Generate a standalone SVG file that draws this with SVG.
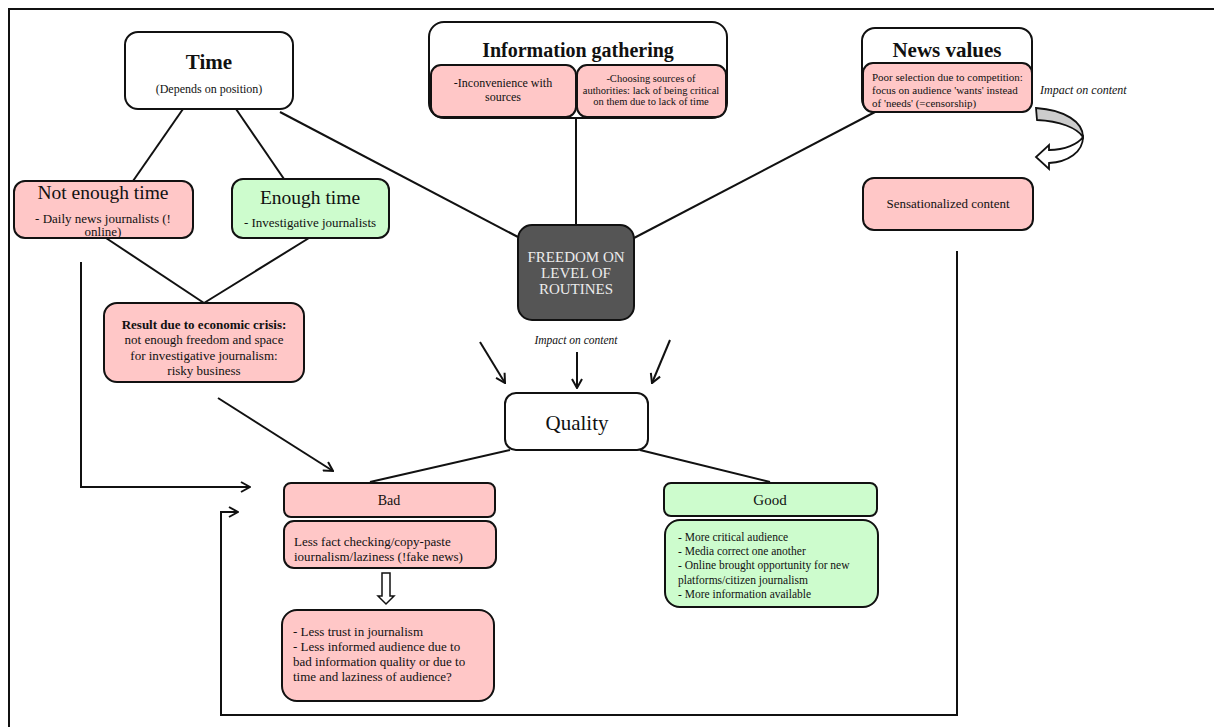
<svg xmlns="http://www.w3.org/2000/svg" width="1214" height="727" viewBox="0 0 1214 727">
  <style>
    .box { stroke: #111; stroke-width: 2; }
    .white { fill: #ffffff; }
    .pink { fill: #ffc7c7; }
    .green { fill: #cdfccd; }
    .dark { fill: #555555; }
    text { font-family: "Liberation Serif", "Times New Roman", serif; fill: #111; }
    .c { text-anchor: middle; }
    .b { font-weight: bold; }
    .i { font-style: italic; }
    .conn line, .conn polyline { stroke: #111; stroke-width: 2; fill: none; }
  </style>
  <defs>
    <marker id="open" viewBox="0 0 12 12" refX="11" refY="6" markerWidth="12" markerHeight="12" markerUnits="userSpaceOnUse" orient="auto">
      <polyline points="2,1 11,6 2,11" fill="none" stroke="#111" stroke-width="2"/>
    </marker>
  </defs>

  <rect x="0" y="0" width="1214" height="727" fill="#ffffff"/>
  <!-- outer frame, running off the right and bottom edges -->
  <rect x="9" y="9" width="1220" height="740" fill="none" stroke="#111" stroke-width="2"/>

  <g class="conn" id="connectors">
    <line x1="183" y1="109" x2="133" y2="181"/>
    <line x1="236" y1="109" x2="284" y2="179"/>
    <line x1="280" y1="112" x2="518" y2="237"/>
    <line x1="576" y1="118" x2="576" y2="225"/>
    <line x1="875" y1="112" x2="634" y2="238"/>
    <line x1="106" y1="238" x2="204" y2="303"/>
    <line x1="309" y1="238" x2="204" y2="303"/>
    <line x1="480" y1="342" x2="505" y2="383" marker-end="url(#open)"/>
    <line x1="577" y1="352" x2="577" y2="388" marker-end="url(#open)"/>
    <line x1="670" y1="340" x2="652" y2="383" marker-end="url(#open)"/>
    <line x1="510" y1="450" x2="370" y2="482"/>
    <line x1="640" y1="450" x2="770" y2="482"/>
    <line x1="218" y1="398" x2="333" y2="471" marker-end="url(#open)"/>
    <polyline points="81,262 81,487 250,487" marker-end="url(#open)"/>
    <polyline points="957,251 957,715 221,715 221,512 238,512" marker-end="url(#open)"/>
    <!-- hollow block arrow under the "Less fact checking" box -->
    <path d="M382,573 L390,573 L390,596 L394,596 L386,604 L378,596 L382,596 Z" fill="#ffffff" stroke="#111" stroke-width="1.5"/>
    <!-- curved 3D arrow beside News values -->
    <path d="M1036,108 C1065,110 1083,122 1083,137 C1077,128 1060,121 1037,120 Z" fill="#cccccc" stroke="#111" stroke-width="1.8"/>
    <path d="M1083,137 C1083,152 1068,162 1049,163 L1049,169 L1036,157 L1049,145 L1049,150 C1065,150 1078,144 1083,137 Z" fill="#ffffff" stroke="#111" stroke-width="1.8"/>
  </g>

  <g id="time">
    <rect class="box white" x="125" y="32" width="168" height="77" rx="13"/>
    <text class="c b" x="209" y="69" font-size="21">Time</text>
    <text class="c" x="209" y="93" font-size="12">(Depends on position)</text>
  </g>

  <g id="not-enough-time">
    <rect class="box pink" x="14" y="181" width="179" height="57" rx="11"/>
    <text class="c" x="103" y="199" font-size="19.5">Not enough time</text>
    <text class="c" x="103" y="223" font-size="13">- Daily news journalists (!</text>
    <text class="c" x="103" y="236" font-size="13">online)</text>
  </g>

  <g id="enough-time">
    <rect class="box green" x="232" y="179" width="157" height="59" rx="11"/>
    <text class="c" x="310" y="204" font-size="19.5">Enough time</text>
    <text class="c" x="310" y="227" font-size="13">- Investigative journalists</text>
  </g>

  <g id="result">
    <rect class="box pink" x="104" y="303" width="200" height="79" rx="13"/>
    <text class="c b" x="204" y="329" font-size="13">Result due to economic crisis:</text>
    <text class="c" x="204" y="344" font-size="13">not enough freedom and space</text>
    <text class="c" x="204" y="360" font-size="13">for investigative journalism:</text>
    <text class="c" x="204" y="375" font-size="13">risky business</text>
  </g>

  <g id="information-gathering">
    <rect class="box white" x="429" y="22" width="298" height="96" rx="15"/>
    <text class="c b" x="578" y="57" font-size="20">Information gathering</text>
    <rect class="box pink" x="431" y="65" width="145" height="52" rx="10"/>
    <rect class="box pink" x="577" y="65" width="149" height="52" rx="10"/>
    <text class="c" x="503" y="87" font-size="12">-Inconvenience with</text>
    <text class="c" x="503" y="101" font-size="12">sources</text>
    <text class="c" x="651" y="81.5" font-size="10.5">-Choosing sources of</text>
    <text class="c" x="651" y="93.5" font-size="10.5">authorities: lack of being critical</text>
    <text class="c" x="651" y="105" font-size="10.5">on them due to lack of time</text>
  </g>

  <g id="news-values">
    <rect class="box white" x="862" y="28" width="170" height="84" rx="13"/>
    <text class="c b" x="947" y="57" font-size="21">News values</text>
    <rect class="box pink" x="863" y="63" width="169" height="49" rx="10"/>
    <text x="872" y="81" font-size="11">Poor selection due to competition:</text>
    <text x="872" y="94" font-size="11">focus on audience 'wants' instead</text>
    <text x="872" y="107" font-size="11">of 'needs' (=censorship)</text>
  </g>

  <g id="impact-label-right">
    <text class="i" x="1040" y="94" font-size="12">Impact on content</text>
  </g>

  <g id="sensationalized">
    <rect class="box pink" x="863" y="178" width="170" height="52" rx="11"/>
    <text class="c" x="948" y="208" font-size="13">Sensationalized content</text>
  </g>

  <g id="freedom">
    <rect class="box dark" x="518" y="225" width="116" height="95" rx="14"/>
    <text class="c" x="576" y="262" font-size="15" style="fill:#ececec">FREEDOM ON</text>
    <text class="c" x="576" y="278" font-size="15" style="fill:#ececec">LEVEL OF</text>
    <text class="c" x="576" y="294" font-size="15" style="fill:#ececec">ROUTINES</text>
  </g>

  <g id="impact-label-center">
    <text class="c i" x="576" y="344" font-size="11.5">Impact on content</text>
  </g>

  <g id="quality">
    <rect class="box white" x="505" y="393" width="143" height="57" rx="11"/>
    <text class="c" x="577" y="430" font-size="21">Quality</text>
  </g>

  <g id="bad">
    <rect class="box pink" x="284" y="483" width="211" height="34" rx="7"/>
    <text class="c" x="389" y="505" font-size="14">Bad</text>
  </g>

  <g id="bad-effects">
    <rect class="box pink" x="284" y="521" width="212" height="47" rx="10"/>
    <text x="294" y="546" font-size="13">Less fact checking/copy-paste</text>
    <text x="294" y="561" font-size="13">iournalism/laziness (!fake news)</text>
  </g>

  <g id="bad-consequences">
    <rect class="box pink" x="282" y="610" width="212" height="91" rx="15"/>
    <text x="293" y="636" font-size="13">- Less trust in journalism</text>
    <text x="293" y="651" font-size="13">- Less informed audience due to</text>
    <text x="293" y="666" font-size="13">bad information quality or due to</text>
    <text x="293" y="681" font-size="13">time and laziness of audience?</text>
  </g>

  <g id="good">
    <rect class="box green" x="664" y="483" width="213" height="33" rx="7"/>
    <text class="c" x="770" y="505" font-size="15">Good</text>
  </g>

  <g id="good-effects">
    <rect class="box green" x="665" y="520" width="213" height="87" rx="15"/>
    <text x="678" y="541" font-size="11.5">- More critical audience</text>
    <text x="678" y="555" font-size="11.5">- Media correct one another</text>
    <text x="678" y="569" font-size="11.5">- Online brought opportunity for new</text>
    <text x="678" y="584" font-size="11.5">platforms/citizen journalism</text>
    <text x="678" y="598" font-size="11.5">- More information available</text>
  </g>
</svg>
